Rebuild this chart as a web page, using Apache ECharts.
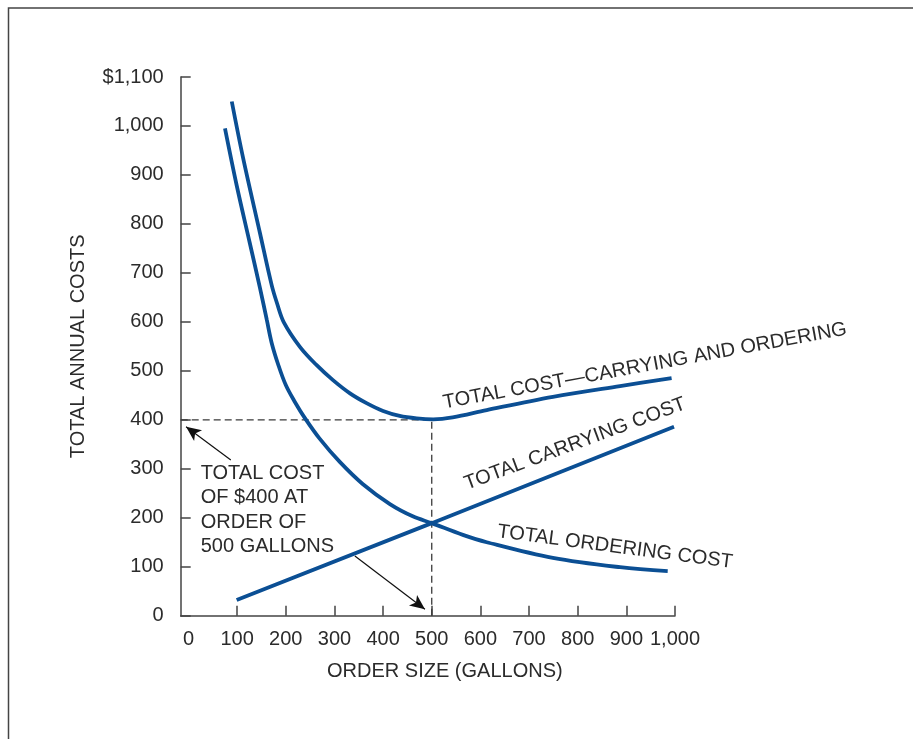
<!DOCTYPE html>
<html>
<head>
<meta charset="utf-8">
<style>
  html, body { margin: 0; padding: 0; background: #ffffff; }
  #chart { width: 913px; height: 739px; }
</style>
<script src="https://cdn.jsdelivr.net/npm/echarts@6/dist/echarts.min.js"></script>
</head>
<body>
<div id="chart"></div>
<script>
// Order size in gallons vs. annual cost in dollars
const totalCost = [
  [89, 1050], [112, 936], [147, 781], [171, 675], [182, 638], [196, 599],
  [229, 549], [263, 512], [297, 481], [332, 454], [366, 434], [400, 418],
  [434, 408], [469, 403], [503, 401], [543, 405], [613, 420], [749, 447],
  [887, 469], [993, 485]
];
const orderingCost = [
  [75, 995], [99, 879], [126, 761], [147, 669], [161, 604], [171, 557],
  [184, 514], [200, 471], [219, 436], [239, 404], [270, 361], [311, 314],
  [358, 269], [414, 228], [461, 203], [500, 189], [564, 165], [613, 150],
  [749, 118], [887, 99], [985, 91]
];
const carryingCost = [[99, 32], [500, 189], [998, 386]];

// Optimum: $400 total at an order of 500 gallons
const optimumOrder = 500;
const optimumCost = 400;

const xTickValues = [0, 100, 200, 300, 400, 500, 600, 700, 800, 900, 1000];
const xTickLabels = ['0', '100', '200', '300', '400', '500', '600', '700', '800', '900', '1,000'];
const yTickLabels = ['0', '100', '200', '300', '400', '500', '600', '700', '800', '900', '1,000', '$1,100'];

const xMin = -16, xMax = 1000, yMin = 0, yMax = 1100, yStep = 100;

const BLUE = '#0b4f94';
const INK = '#2b2b2b';
const AXIS = '#444444';
const FONT = '"Liberation Sans", Arial, sans-serif';

const chart = echarts.init(document.getElementById('chart'), null, { renderer: 'canvas' });

const curveLabel = (text, x, y, deg) => ({
  type: 'text', x: x, y: y, rotation: deg * Math.PI / 180, silent: true,
  style: { text: text, fill: INK, fontSize: 20, fontFamily: FONT, align: 'center', verticalAlign: 'middle' }
});

chart.setOption({
  animation: false,
  backgroundColor: '#ffffff',
  grid: { left: 180.7, right: 238, top: 77, bottom: 123.3, containLabel: false },
  xAxis: {
    type: 'value', min: xMin, max: xMax,
    name: 'ORDER SIZE (GALLONS)', nameLocation: 'middle', nameGap: 46,
    nameTextStyle: { color: INK, fontSize: 20, fontFamily: FONT, padding: [0, 0, 0, 34] },
    axisLine: { show: true, onZero: false, lineStyle: { color: AXIS, width: 1.5 } },
    axisTick: { show: true, inside: true, length: 10, customValues: xTickValues.slice(1), lineStyle: { color: AXIS, width: 1.5 } },
    axisLabel: {
      customValues: xTickValues, margin: 14, color: INK, fontSize: 20, fontFamily: FONT,
      formatter: v => xTickLabels[xTickValues.indexOf(v)] ?? ''
    },
    splitLine: { show: false }
  },
  yAxis: {
    type: 'value', min: yMin, max: yMax, interval: yStep,
    name: 'TOTAL ANNUAL COSTS', nameLocation: 'middle', nameGap: 92, nameRotate: 90,
    nameTextStyle: { color: INK, fontSize: 20, fontFamily: FONT },
    axisLine: { show: true, onZero: false, lineStyle: { color: AXIS, width: 1.5 } },
    axisTick: { show: true, inside: true, length: 10, lineStyle: { color: AXIS, width: 1.5 } },
    axisLabel: {
      margin: 17, color: INK, fontSize: 20, fontFamily: FONT,
      formatter: v => yTickLabels[Math.round(v / yStep)] ?? ''
    },
    splitLine: { show: false }
  },
  series: [
    {
      name: 'guide', type: 'line', silent: true, symbol: 'none', z: 1,
      data: [[xMin, optimumCost], [optimumOrder, optimumCost], [optimumOrder, 0]],
      lineStyle: { color: '#3a3a3a', width: 1.3, type: [7, 4] },
      markLine: {
        silent: true, animation: false,
        symbol: ['none', 'arrow'], symbolSize: [10, 15],
        label: { show: false },
        lineStyle: { color: '#111111', width: 1.2, type: 'solid' },
        data: [
          [{ coord: [87, 318] }, { coord: [-5, 386] }],
          [{ coord: [342, 122] }, { coord: [486, 13] }]
        ]
      }
    },
    {
      name: 'TOTAL COST—CARRYING AND ORDERING', type: 'line', symbol: 'none',
      smooth: 0.35, data: totalCost,
      lineStyle: { color: BLUE, width: 3.8, cap: 'butt' }, z: 3
    },
    {
      name: 'TOTAL ORDERING COST', type: 'line', symbol: 'none',
      smooth: 0.35, data: orderingCost,
      lineStyle: { color: BLUE, width: 3.8, cap: 'butt' }, z: 3
    },
    {
      name: 'TOTAL CARRYING COST', type: 'line', symbol: 'none',
      data: carryingCost,
      lineStyle: { color: BLUE, width: 3.8, cap: 'butt' }, z: 3
    }
  ],
  graphic: [
    {
      type: 'rect', silent: true, z: -10,
      shape: { x: 8.5, y: 8, width: 1200, height: 1200 },
      style: { fill: 'none', stroke: '#444444', lineWidth: 1.5 }
    },
    {
      type: 'text', left: 200.7, top: 461, silent: true,
      style: {
        text: 'TOTAL COST\nOF $400 AT\nORDER OF\n500 GALLONS',
        fill: INK, fontSize: 20, fontFamily: FONT, lineHeight: 24.4
      }
    },
    curveLabel('TOTAL COST—CARRYING AND ORDERING', 645, 366, 10.4),
    curveLabel('TOTAL CARRYING COST', 575, 444, 20.3),
    curveLabel('TOTAL ORDERING COST', 615, 547, -7.5)
  ]
});
</script>
</body>
</html>
